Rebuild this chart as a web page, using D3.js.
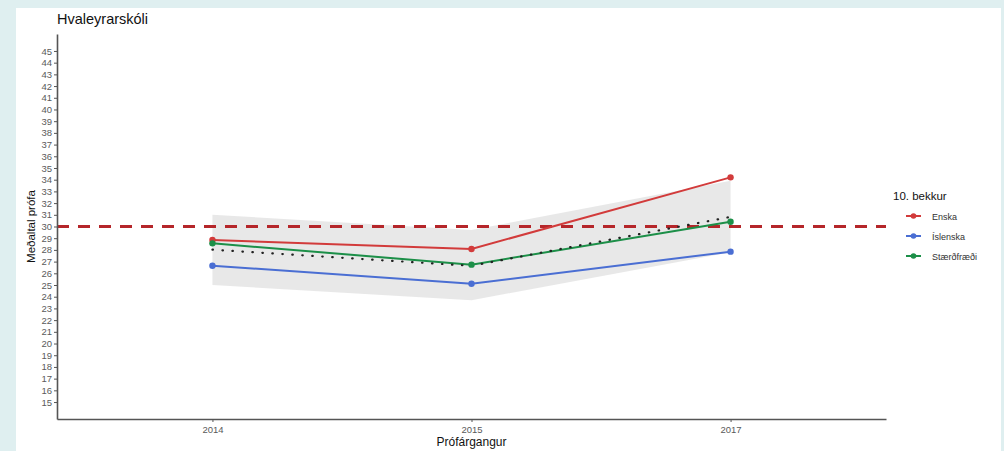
<!DOCTYPE html>
<html><head><meta charset="utf-8">
<script src="https://cdn.jsdelivr.net/npm/d3@7"></script>
<style>
html,body{margin:0;padding:0;background:#dfeff0;}
svg{display:block;font-family:"Liberation Sans",Arial,sans-serif;}
</style></head>
<body><svg id="chart" width="1004" height="451"></svg>
<script>
const years = ["2014","2015","2017"];
const enska = [28.85, 28.08, 34.2];
const islenska = [26.65, 25.11, 27.85];
const staerdfraedi = [28.56, 26.74, 30.41];
const meanLine = [28.02, 26.64, 30.82];
const ribbonLower = [25.0, 23.7, 27.8];
const ribbonUpper = [31.0, 29.7, 33.9];
const yTicks = d3.range(15, 46);
const seriesNames = ["Enska","Íslenska","Stærðfræði"];
const seriesColors = ["#d23b3b","#4a6ed3","#1c8f48"];
const refValue = 30;

(function(){
const svg = d3.select("#chart");
svg.append("rect").attr("x",16).attr("y",8).attr("width",985).attr("height",443).attr("fill","#ffffff");

const pL=57, pR=886, pT=34, pB=419;
const x = d3.scaleLinear().domain([0.4,3.6]).range([pL,pR]);
const y = d3.scaleLinear().domain([13.55,46.45]).range([pB,pT]);
const xi = i => x(i+1);

// ribbon
const area = d3.area().x((d,i)=>xi(i)).y0((d,i)=>y(ribbonLower[i])).y1((d,i)=>y(ribbonUpper[i]));
svg.append("path").datum(years).attr("d",area).attr("fill","#e6e6e6").attr("opacity",0.9);

// reference line
svg.append("line").attr("x1",pL).attr("x2",pR).attr("y1",y(refValue)).attr("y2",y(refValue))
  .attr("stroke","#b5262a").attr("stroke-width",3).attr("stroke-dasharray","12,9");

const line = d3.line().x((d,i)=>xi(i)).y(d=>y(d));
const data = [enska, islenska, staerdfraedi];
data.forEach((s,k)=>{
  svg.append("path").datum(s).attr("d",line).attr("fill","none").attr("stroke",seriesColors[k]).attr("stroke-width",2);
});
// mean dotted
svg.append("path").datum(meanLine).attr("d",line).attr("fill","none").attr("stroke","#222")
  .attr("stroke-width",2.2).attr("stroke-dasharray","0.5,9.5").attr("stroke-linecap","round");
data.forEach((s,k)=>{
  svg.selectAll(null).data(s).enter().append("circle").attr("cx",(d,i)=>xi(i)).attr("cy",d=>y(d)).attr("r",3.2).attr("fill",seriesColors[k]);
});

// axes
const yAxis = d3.axisLeft(y).tickValues(yTicks).tickSizeInner(3).tickSizeOuter(0).tickPadding(2);
const gy = svg.append("g").attr("transform",`translate(${pL},0)`).call(yAxis);
gy.select(".domain").attr("stroke","#555").attr("stroke-width",1.6);
gy.selectAll(".tick line").attr("stroke","#555");
gy.selectAll(".tick text").attr("fill","#5a5a5a").attr("font-size",9.5);

const xAxis = d3.axisBottom(x).tickValues([1,2,3]).tickFormat(d=>years[d-1]).tickSizeInner(3).tickSizeOuter(0).tickPadding(4);
const gx = svg.append("g").attr("transform",`translate(0,${pB})`).call(xAxis);
gx.select(".domain").attr("stroke","#555").attr("stroke-width",1.6);
gx.selectAll(".tick line").attr("stroke","#555");
gx.selectAll(".tick text").attr("fill","#5a5a5a").attr("font-size",9.5);

// titles
svg.append("text").attr("x",57).attr("y",24).attr("font-size",14.5).attr("fill","#111").text("Hvaleyrarskóli");
svg.append("text").attr("x",x(2)).attr("y",446).attr("text-anchor","middle").attr("font-size",12).attr("fill","#111").text("Prófárgangur");
svg.append("text").attr("transform",`translate(35,${(pT+pB)/2}) rotate(-90)`).attr("text-anchor","middle")
  .attr("font-size",11.5).attr("fill","#111").text("Meðaltal prófa");

// legend
const lg = svg.append("g");
lg.append("text").attr("x",893).attr("y",200).attr("font-size",11.5).attr("fill","#111").text("10. bekkur");
seriesNames.forEach((n,k)=>{
  const yy = 216 + k*20;
  lg.append("line").attr("x1",906).attr("x2",921).attr("y1",yy).attr("y2",yy).attr("stroke",seriesColors[k]).attr("stroke-width",2);
  lg.append("circle").attr("cx",913.5).attr("cy",yy).attr("r",2.8).attr("fill",seriesColors[k]);
  lg.append("text").attr("x",932).attr("y",yy+3.5).attr("font-size",9).attr("fill","#333").text(n);
});
})();
</script></body></html>
